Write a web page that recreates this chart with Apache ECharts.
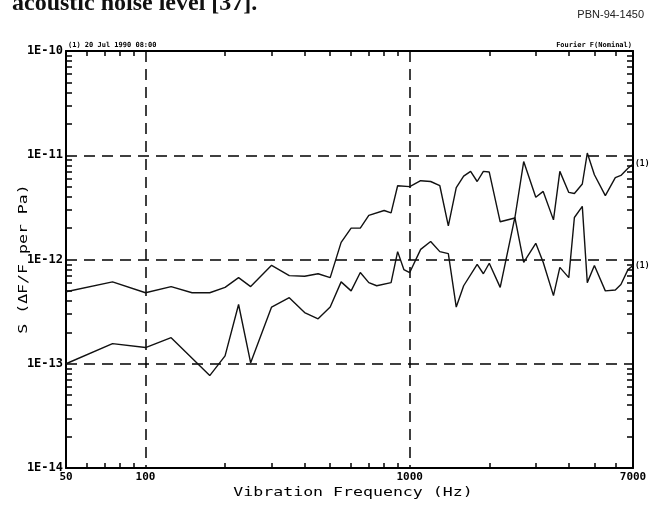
<!DOCTYPE html>
<html>
<head>
<meta charset="utf-8">
<script src="https://cdn.jsdelivr.net/npm/echarts@6/dist/echarts.min.js"></script>
<style>
html, body { margin: 0; background: #fff; }
#chart { width: 656px; height: 508px; }
</style>
</head>
<body>
<div id="chart"></div>
<script>
// upper trace
var upperFreq = [50, 75, 100, 125, 150, 175, 200, 225, 250, 300, 350, 400, 450, 500, 550, 600, 650, 700, 800, 850,
    900, 1000, 1100, 1200, 1300, 1400, 1500, 1600, 1700, 1800, 1900, 2000, 2200, 2500, 2700, 3000, 3200, 3500, 3700,
    4000, 4200, 4500, 4700, 5000, 5500, 6000, 6300, 6700, 7000];
var upperVal = [4.9e-13, 6.1e-13, 4.8e-13, 5.5e-13, 4.8e-13, 4.8e-13, 5.4e-13, 6.7e-13, 5.5e-13, 8.8e-13, 7.0e-13,
    6.9e-13, 7.3e-13, 6.7e-13, 1.46e-12, 2.0e-12, 2.0e-12, 2.65e-12, 2.95e-12, 2.8e-12, 5.1e-12, 5.0e-12, 5.7e-12,
    5.6e-12, 5.1e-12, 2.1e-12, 4.9e-12, 6.3e-12, 7.0e-12, 5.6e-12, 7.0e-12, 6.9e-12, 2.3e-12, 2.5e-12, 8.7e-12,
    3.95e-12, 4.5e-12, 2.4e-12, 7.0e-12, 4.4e-12, 4.3e-12, 5.3e-12, 1.05e-11, 6.5e-12, 4.1e-12, 6.1e-12, 6.4e-12,
    7.5e-12, 8.2e-12];

// lower trace
var lowerFreq = [50, 75, 100, 125, 175, 200, 225, 250, 300, 350, 400, 450, 500, 550, 600, 650, 700, 750, 850, 900,
    950, 1000, 1100, 1200, 1300, 1400, 1500, 1600, 1800, 1900, 2000, 2200, 2500, 2700, 3000, 3200, 3500, 3700, 4000,
    4200, 4500, 4700, 5000, 5500, 6000, 6300, 6700, 7000];
var lowerVal = [1.0e-13, 1.56e-13, 1.43e-13, 1.78e-13, 7.7e-14, 1.19e-13, 3.7e-13, 1.02e-13, 3.5e-13, 4.3e-13,
    3.1e-13, 2.7e-13, 3.5e-13, 6.1e-13, 5.0e-13, 7.5e-13, 6.0e-13, 5.6e-13, 6.0e-13, 1.19e-12, 8.0e-13, 7.5e-13,
    1.25e-12, 1.49e-12, 1.19e-12, 1.14e-12, 3.5e-13, 5.6e-13, 9.0e-13, 7.3e-13, 9.2e-13, 5.4e-13, 2.53e-12, 9.4e-13,
    1.43e-12, 9.4e-13, 4.5e-13, 8.4e-13, 6.7e-13, 2.53e-12, 3.23e-12, 6.0e-13, 8.75e-13, 5.0e-13, 5.1e-13, 5.75e-13,
    8.0e-13, 8.75e-13];

var xLabels = [50, 100, 1000, 7000];
var yLabels = [1e-14, 1e-13, 1e-12, 1e-11, 1e-10];
var xTicks = [60, 70, 80, 90, 200, 300, 400, 500, 600, 700, 800, 900, 2000, 3000, 4000, 5000, 6000];
var yTicks = [2e-14, 3e-14, 4e-14, 5e-14, 6e-14, 7e-14, 8e-14, 9e-14,
    2e-13, 3e-13, 4e-13, 5e-13, 6e-13, 7e-13, 8e-13, 9e-13,
    2e-12, 3e-12, 4e-12, 5e-12, 6e-12, 7e-12, 8e-12, 9e-12,
    2e-11, 3e-11, 4e-11, 5e-11, 6e-11, 7e-11, 8e-11, 9e-11];
var xGrid = [100, 1000];
var yGrid = [1e-13, 1e-12, 1e-11];

var plotFont = 'DejaVu Sans Mono';
var dash = { color: '#000', width: 1.5, type: [11, 7] };

function pairs(fs, vs) {
    var out = [];
    for (var i = 0; i < fs.length; i++) {
        out.push([fs[i], vs[i]]);
    }
    return out;
}

function xAxisOf(pos, labels) {
    return {
        type: 'log', logBase: 10, min: 50, max: 7000, position: pos,
        axisLine: { lineStyle: { color: '#000', width: 2 } },
        axisTick: { show: true, inside: true, length: 5, customValues: xTicks, lineStyle: { color: '#000', width: 1.5 } },
        axisLabel: labels ? {
            customValues: xLabels, margin: 4, color: '#000',
            fontFamily: plotFont, fontWeight: 'bold', fontSize: 11,
            formatter: function (v) { return String(Math.round(v)); }
        } : { show: false },
        splitLine: { show: false }
    };
}

function yAxisOf(pos, labels) {
    return {
        type: 'log', logBase: 10, min: 1e-14, max: 1e-10, position: pos,
        axisLine: { lineStyle: { color: '#000', width: 2 } },
        axisTick: { show: true, inside: true, length: 6, customValues: yTicks, lineStyle: { color: '#000', width: 1.5 } },
        axisLabel: labels ? {
            customValues: yLabels, margin: 3, color: '#000',
            fontFamily: plotFont, fontWeight: 'bold', fontSize: 12,
            formatter: function (v) { return '1E' + Math.round(Math.log10(v)); }
        } : { show: false },
        splitLine: { show: false }
    };
}

// hidden axes that only carry the dashed grid
var xGridAxis = {
    type: 'log', logBase: 10, min: 50, max: 7000, position: 'bottom',
    axisLine: { show: false }, axisLabel: { show: false },
    axisTick: { show: false, customValues: xGrid },
    splitLine: { show: true, lineStyle: dash }
};
var yGridAxis = {
    type: 'log', logBase: 10, min: 1e-14, max: 1e-10, position: 'left',
    axisLine: { show: false }, axisLabel: { show: false },
    axisTick: { show: false, customValues: yGrid },
    splitLine: { show: true, lineStyle: dash }
};

var traceLabel = {
    show: true, formatter: '(1)', distance: 2, color: '#000',
    fontFamily: plotFont, fontWeight: 'bold', fontSize: 8
};

var chart = echarts.init(document.getElementById('chart'));
chart.setOption({
    animation: false,
    backgroundColor: '#fff',
    grid: { left: 66, right: 23, top: 51, bottom: 40 },
    xAxis: [xAxisOf('bottom', true), xAxisOf('top', false), xGridAxis],
    yAxis: [yAxisOf('left', true), yAxisOf('right', false), yGridAxis],
    series: [
        {
            name: 'upper', type: 'line', xAxisIndex: 0, yAxisIndex: 0,
            data: pairs(upperFreq, upperVal),
            showSymbol: false, lineStyle: { color: '#111', width: 1.4 },
            endLabel: traceLabel
        },
        {
            name: 'lower', type: 'line', xAxisIndex: 0, yAxisIndex: 0,
            data: pairs(lowerFreq, lowerVal),
            showSymbol: false, lineStyle: { color: '#111', width: 1.4 },
            endLabel: traceLabel
        }
    ],
    graphic: [
        {
            type: 'text', left: 12, top: -8,
            style: { text: 'acoustic noise level [37].', font: 'bold 24px "Liberation Serif"', fill: '#111' }
        },
        {
            type: 'text', right: 12, top: 9,
            style: { text: 'PBN-94-1450', font: '11px "Liberation Sans"', fill: '#222' }
        },
        {
            type: 'text', x: 68, y: 45,
            style: { text: '(1) 20 Jul 1990 08:00', font: 'bold 7px "DejaVu Sans Mono"', fill: '#000', align: 'left', verticalAlign: 'middle' }
        },
        {
            type: 'text', x: 632, y: 45,
            style: { text: 'Fourier F(Nominal)', font: 'bold 7px "DejaVu Sans Mono"', fill: '#000', align: 'right', verticalAlign: 'middle' }
        },
        {
            type: 'text', x: 353, y: 493, scaleX: 1.38,
            style: { text: 'Vibration Frequency (Hz)', font: '12px "DejaVu Sans Mono"', fill: '#000', align: 'center', verticalAlign: 'middle' }
        },
        {
            type: 'text', x: 24, y: 259, rotation: Math.PI / 2, scaleX: 1.38,
            style: { text: 'S (\u0394F/F per Pa)', font: '12px "DejaVu Sans Mono"', fill: '#000', align: 'center', verticalAlign: 'middle' }
        }
    ]
});
</script>
</body>
</html>
